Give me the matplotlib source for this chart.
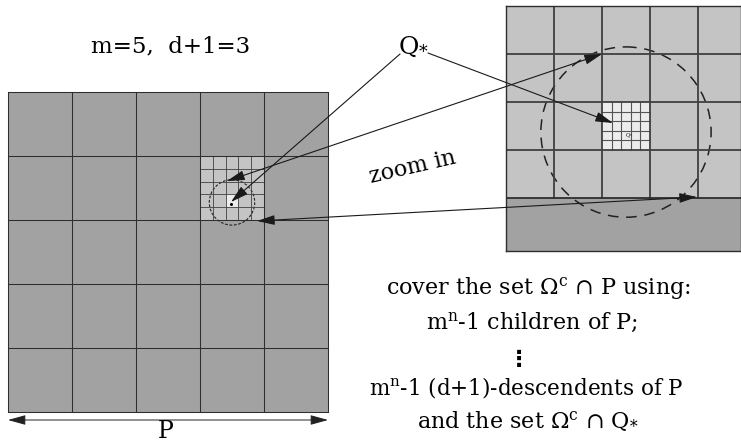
import matplotlib.pyplot as plt
from matplotlib.patches import Rectangle, Circle

plt.rcParams['font.family'] = ['DejaVu Serif', 'DejaVu Sans']
plt.rcParams['mathtext.fontset'] = 'dejavuserif'

# what the picture shows
m = 5
child = (3, 1)        # (col, row) of the refined child of P
grandchild = (2, 3)   # (col, row) of the refined grandchild
title = 'm=5,  d+1=3'
q_label = r'Q$_{*}$'
cover_lines = [r'cover the set $\Omega^{\mathrm{c}}$ ∩ P using:',
               r'm$^{\mathrm{n}}$-1 children of P;',
               '⋮',
               r'm$^{\mathrm{n}}$-1 (d+1)-descendents of P',
               r'and the set $\Omega^{\mathrm{c}}$ ∩ Q$_{*}$']

# layout (pixels)
W, H = 741, 445
P_x0, P_y0, P_size = 8, 92, 320
ball_c, ball_r = (232, 202.4), 22.7
win = (200, 262.67, 168.8, 234.1)     # zoom window in P coords
panel = (506, 6, 235, 245)            # left, top, width, height in px
cover_y = [289, 322, 360, 388, 422]
cover_x = [538, 532, 519, 526, 528]

c_dark, c_mid, c_light = '#a2a2a2', '#c4c4c4', '#ececec'
c_line = '#2e2e2e'


def draw_P(a, lw1, lw2, lw3):
    s1 = P_size / m
    a.add_patch(Rectangle((P_x0, P_y0), P_size, P_size, fc=c_dark, ec='none'))
    cx, cy = P_x0 + child[0] * s1, P_y0 + child[1] * s1
    a.add_patch(Rectangle((cx, cy), s1, s1, fc=c_mid, ec='none'))
    s2 = s1 / m
    gx, gy = cx + grandchild[0] * s2, cy + grandchild[1] * s2
    a.add_patch(Rectangle((gx, gy), s2, s2, fc=c_light, ec='none'))
    s3 = s2 / m
    if lw3 > 0:
        for k in range(1, m):
            a.plot([gx + k * s3] * 2, [gy, gy + s2], color='#555555', lw=lw3)
            a.plot([gx, gx + s2], [gy + k * s3] * 2, color='#555555', lw=lw3)
    for k in range(1, m):
        a.plot([cx + k * s2] * 2, [cy, cy + s1], color='#404040', lw=lw2)
        a.plot([cx, cx + s1], [cy + k * s2] * 2, color='#404040', lw=lw2)
    for k in range(m + 1):
        a.plot([P_x0 + k * s1] * 2, [P_y0, P_y0 + P_size], color=c_line, lw=lw1)
        a.plot([P_x0, P_x0 + P_size], [P_y0 + k * s1] * 2, color=c_line, lw=lw1)


fig = plt.figure(figsize=(W / 100, H / 100), dpi=100)

# left: the cube P
ax = fig.add_axes([0, 0, 1, 1])
ax.set_xlim(0, W)
ax.set_ylim(H, 0)
ax.axis('off')
draw_P(ax, 0.75, 0.6, 0)
ax.add_patch(Circle(ball_c, ball_r, fill=False, ec='#222222', lw=0.8,
                    ls=(0, (2.5, 1.5))))
ax.plot([230.5], [203.5], marker='o', ms=1.2, color='k')

# right: zoomed view
ax2 = fig.add_axes([panel[0] / W, 1 - (panel[1] + panel[3]) / H,
                    panel[2] / W, panel[3] / H])
ax2.set_xlim(win[0], win[1])
ax2.set_ylim(win[3], win[2])
ax2.set_xticks([])
ax2.set_yticks([])
for sp in ax2.spines.values():
    sp.set_color(c_line)
    sp.set_linewidth(1.0)
draw_P(ax2, 1.3, 1.3, 0.8)
ax2.add_patch(Circle(ball_c, ball_r, fill=False, ec='#222222', lw=1.1,
                     ls=(0, (7, 5))))
ax2.text(232.8, 203.3, q_label, fontsize=4, ha='center', va='center')

# overlay: arrows and text
ax3 = fig.add_axes([0, 0, 1, 1], zorder=10)
ax3.set_xlim(0, W)
ax3.set_ylim(H, 0)
ax3.axis('off')

one = dict(arrowstyle='-|>,head_length=0.9,head_width=0.25', color='#1a1a1a',
           lw=0.8, mutation_scale=12, shrinkA=0, shrinkB=0)
two = dict(arrowstyle='<|-|>,head_length=0.9,head_width=0.25', color='#1a1a1a',
           lw=0.8, mutation_scale=12, shrinkA=0, shrinkB=0)
ax3.annotate('', xy=(231, 202), xytext=(400, 54), arrowprops=one)
ax3.annotate('', xy=(613, 123), xytext=(428, 53), arrowprops=one)
ax3.annotate('', xy=(602, 54), xytext=(227, 181), arrowprops=two)
ax3.annotate('', xy=(697, 197), xytext=(257, 221), arrowprops=two)
ax3.annotate('', xy=(328, 420), xytext=(8, 420),
             arrowprops=dict(two, color='#222222', lw=0.7))

ax3.text(171, 46, title, fontsize=16.5, ha='center', va='center')
ax3.text(414, 47, q_label, fontsize=18, ha='center', va='center')
ax3.text(413, 167, 'zoom in', fontsize=16, ha='center', va='center',
         rotation=13, rotation_mode='anchor')
ax3.text(166, 432, 'P', fontsize=17, ha='center', va='center')
for x, y, s in zip(cover_x, cover_y, cover_lines):
    ax3.text(x, y, s, fontsize=16 if s != cover_lines[3] else 15.5,
             ha='center', va='center',
             fontweight='bold' if s == '⋮' else 'normal')

fig.savefig('out.png', dpi=100)
